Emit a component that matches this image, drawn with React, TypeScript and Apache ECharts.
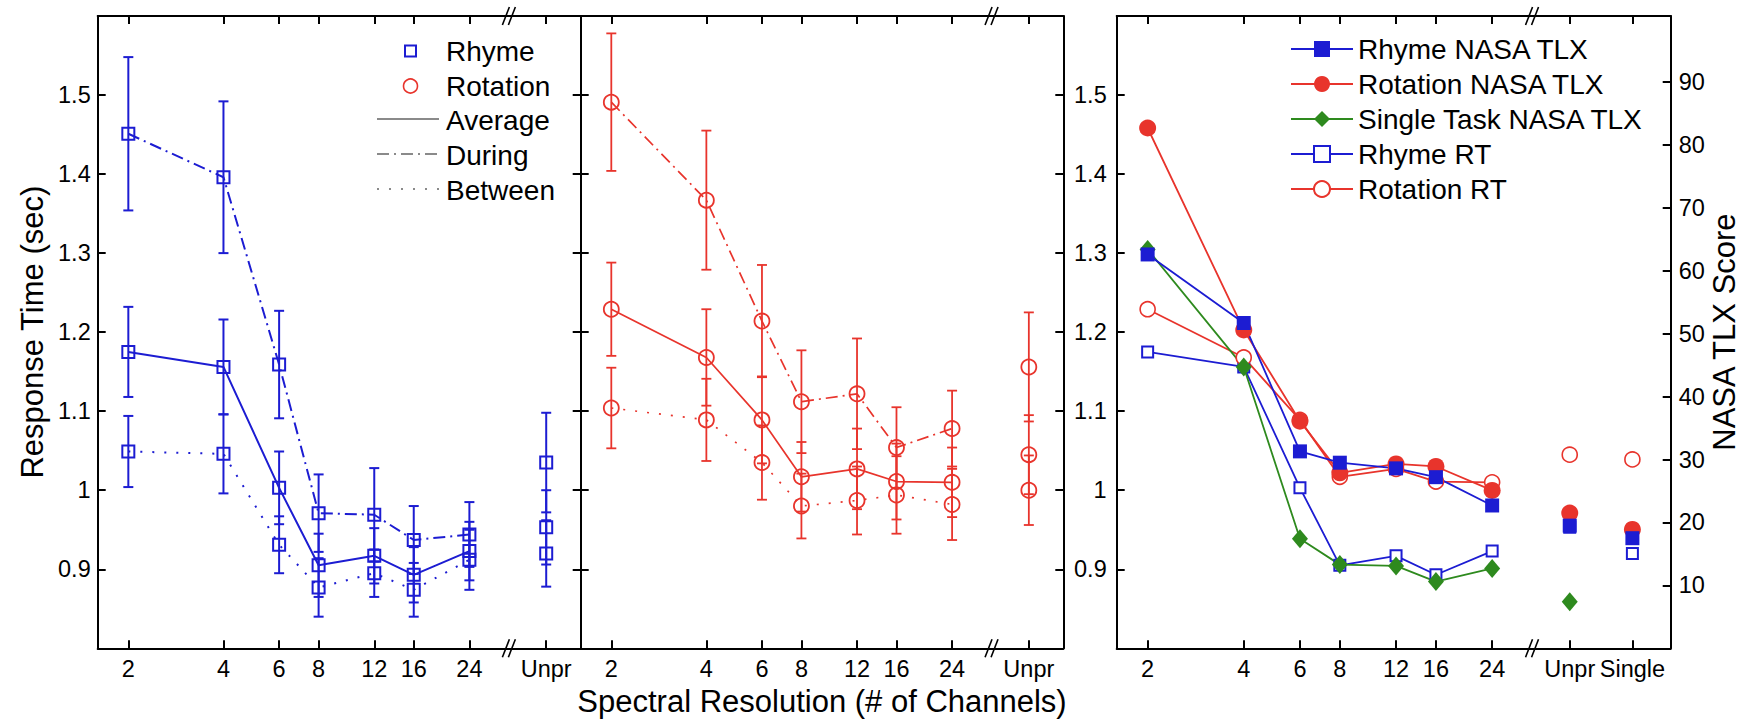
import React, { useEffect, useRef } from 'react';
import * as echarts from 'echarts';

const FONT = '"Liberation Sans", Arial, Helvetica, sans-serif';
const BLUE = '#1c1cd2';
const RED = '#e8342c';
const GREEN = '#2e8a1e';
const GRAY = '#8a8a8a';

// x axis (log2 spaced channel counts), "Unpr" and "Single" placed after a break
const channels = [2, 4, 6, 8, 12, 16, 24];
const UNPR_X = 42;
const SINGLE_X = 66;
const BREAK_X = 32;
const X_MIN = 1.6;
const X_MAX_RT = 54;
const X_MAX_TLX = 87;
const xTickValues = [2, 4, 6, 8, 12, 16, 24, UNPR_X];
const xTickLabels = ['2', '4', '6', '8', '12', '16', '24', 'Unpr'];
const xTickValuesTlx = [2, 4, 6, 8, 12, 16, 24, UNPR_X, SINGLE_X];
const xTickLabelsTlx = ['2', '4', '6', '8', '12', '16', '24', 'Unpr', 'Single'];

// y axes
const RT_MIN = 0.8;
const RT_MAX = 1.6;
const rtTicks = [0.9, 1, 1.1, 1.2, 1.3, 1.4, 1.5];
const TLX_MIN = 0;
const TLX_MAX = 100.5;
const tlxTicks = [10, 20, 30, 40, 50, 60, 70, 80, 90];

// Rhyme response time (sec): value and error half-width per channel; then Unpr
const rhymeDuring = [1.451, 1.396, 1.159, 0.971, 0.969, 0.937, 0.944];
const rhymeDuringErr = [0.097, 0.096, 0.068, 0.049, 0.059, 0.043, 0.041];
const rhymeDuringUnpr = 1.035;
const rhymeDuringUnprErr = 0.063;
const rhymeAverage = [1.175, 1.156, 1.003, 0.905, 0.917, 0.893, 0.923];
const rhymeAverageErr = [0.057, 0.06, 0.046, 0.04, 0.035, 0.035, 0.037];
const rhymeAverageUnpr = 0.953;
const rhymeAverageUnprErr = 0.047;
const rhymeBetween = [1.049, 1.046, 0.931, 0.877, 0.895, 0.874, 0.912];
const rhymeBetweenErr = [0.045, 0.05, 0.036, 0.037, 0.03, 0.034, 0.038];
const rhymeBetweenUnpr = 0.92;
const rhymeBetweenUnprErr = 0.042;

// Rotation response time (sec)
const rotationDuring = [1.491, 1.367, 1.214, 1.112, 1.122, 1.054, 1.078];
const rotationDuringErr = [0.087, 0.088, 0.071, 0.065, 0.07, 0.051, 0.048];
const rotationDuringUnpr = 1.156;
const rotationDuringUnprErr = 0.069;
const rotationAverage = [1.229, 1.168, 1.089, 1.017, 1.027, 1.011, 1.01];
const rotationAverageErr = [0.059, 0.061, 0.055, 0.044, 0.051, 0.048, 0.044];
const rotationAverageUnpr = 1.045;
const rotationAverageUnprErr = 0.05;
const rotationBetween = [1.104, 1.089, 1.035, 0.98, 0.987, 0.994, 0.982];
const rotationBetweenErr = [0.051, 0.052, 0.047, 0.041, 0.043, 0.049, 0.045];
const rotationBetweenUnpr = 1.0;
const rotationBetweenUnprErr = 0.044;

// Single-task response time (sec)
const rhymeRtSingle = 0.92;
const rotationRtSingle = 1.039;

// NASA TLX scores
const rhymeTlx = [62.6, 51.7, 31.3, 29.5, 28.6, 27.2, 22.7];
const rhymeTlxUnpr = 19.5;
const rhymeTlxSingle = 17.5;
const rotationTlx = [82.7, 50.6, 36.1, 27.9, 29.3, 28.9, 25.1];
const rotationTlxUnpr = 21.5;
const rotationTlxSingle = 18.9;
const singleTaskTlx = [63.4, 44.7, 17.4, 13.3, 13.1, 10.6, 12.7];
const singleTaskTlxUnpr = 7.4;

const DASH_DOT = [12, 5, 2, 5];
const DOTTED = [2, 10];

const makeXFormatter = (values: number[], labels: string[]) => (v: number) => {
  let best = 0;
  values.forEach((t, i) => {
    if (Math.abs(Math.log(t) - Math.log(v)) < Math.abs(Math.log(values[best]) - Math.log(v))) best = i;
  });
  return labels[best];
};

const axisLine = { show: true, onZero: false, lineStyle: { color: '#000', width: 2 } };
const tickStyle = { color: '#000', width: 2 };
const labelBase = { color: '#000', fontSize: 23.5, fontFamily: FONT };

function xAxisCfg(gridIndex: number, position: string, max: number, values: number[], labels: string[], showLabels: boolean, name?: string) {
  return {
    type: 'log',
    logBase: 2,
    gridIndex,
    position,
    min: X_MIN,
    max,
    name: name || '',
    nameLocation: 'middle',
    nameGap: 34,
    nameTextStyle: { color: '#000', fontSize: 31, fontFamily: FONT },
    axisLine,
    axisTick: { show: true, inside: true, length: 8, customValues: values, lineStyle: tickStyle },
    axisLabel: { ...labelBase, show: showLabels, customValues: values, margin: 9, formatter: makeXFormatter(values, labels) },
    splitLine: { show: false },
    minorTick: { show: false },
    minorSplitLine: { show: false },
  };
}

function yAxisCfg(gridIndex: number, position: string, min: number, max: number, ticks: number[], showLabels: boolean, margin: number, name?: string, nameGap?: number) {
  return {
    type: 'value',
    gridIndex,
    position,
    min,
    max,
    name: name || '',
    nameLocation: 'middle',
    nameRotate: 90,
    nameGap: nameGap || 0,
    nameTextStyle: { color: '#000', fontSize: 31, fontFamily: FONT },
    axisLine,
    axisTick: { show: true, inside: true, length: 8, customValues: ticks, lineStyle: tickStyle },
    axisLabel: {
      ...labelBase,
      show: showLabels,
      customValues: ticks,
      margin,
      formatter: (v: number) => String(Math.round(v * 10) / 10),
    },
    splitLine: { show: false },
  };
}

function errorBars(name: string, values: number[], errs: number[], unprValue: number, unprErr: number, color: string, xi: number, yi: number, lw: number) {
  const data = channels.map((c, i) => [c, values[i] - errs[i], values[i] + errs[i]]);
  data.push([UNPR_X, unprValue - unprErr, unprValue + unprErr]);
  return {
    type: 'custom',
    name,
    xAxisIndex: xi,
    yAxisIndex: yi,
    data,
    silent: true,
    clip: false,
    z: 2,
    encode: { x: 0, y: [1, 2] },
    renderItem: (_params: any, api: any) => {
      const x = api.value(0);
      const lo = api.coord([x, api.value(1)]);
      const hi = api.coord([x, api.value(2)]);
      const hw = 5;
      const style = { stroke: color, lineWidth: lw, fill: 'none' };
      return {
        type: 'group',
        children: [
          { type: 'line', shape: { x1: lo[0], y1: lo[1], x2: hi[0], y2: hi[1] }, style },
          { type: 'line', shape: { x1: lo[0] - hw, y1: lo[1], x2: lo[0] + hw, y2: lo[1] }, style },
          { type: 'line', shape: { x1: hi[0] - hw, y1: hi[1], x2: hi[0] + hw, y2: hi[1] }, style },
        ],
      };
    },
  };
}

function lineSeries(name: string, values: number[], color: string, dash: any, symbol: string, size: any, fill: string, bw: number, lw: number, xi: number, yi: number) {
  return {
    type: 'line',
    name,
    xAxisIndex: xi,
    yAxisIndex: yi,
    data: channels.map((c, i) => [c, values[i]]),
    symbol,
    symbolSize: size,
    showSymbol: true,
    showAllSymbol: true,
    lineStyle: { color, width: lw, type: dash },
    itemStyle: { color: fill, borderColor: color, borderWidth: bw, opacity: 1 },
    emphasis: { disabled: true },
    silent: true,
    z: 3,
  };
}

function pointSeries(name: string, pts: number[][], color: string, symbol: string, size: any, fill: string, bw: number, xi: number, yi: number) {
  return {
    type: 'scatter',
    name,
    xAxisIndex: xi,
    yAxisIndex: yi,
    data: pts,
    symbol,
    symbolSize: size,
    itemStyle: { color: fill, borderColor: color, borderWidth: bw, opacity: 1 },
    emphasis: { disabled: true },
    silent: true,
    z: 3,
  };
}

function breakMarks(name: string, xi: number, yi: number, yMin: number, yMax: number) {
  return {
    type: 'custom',
    name,
    xAxisIndex: xi,
    yAxisIndex: yi,
    data: [[BREAK_X, yMin], [BREAK_X, yMax]],
    silent: true,
    clip: false,
    z: 10,
    renderItem: (_params: any, api: any) => {
      const p = api.coord([api.value(0), api.value(1)]);
      const style = { stroke: '#000', lineWidth: 1.6 };
      return {
        type: 'group',
        children: [-3, 3].map((dx) => ({
          type: 'line',
          shape: { x1: p[0] + dx - 3.5, y1: p[1] + 9, x2: p[0] + dx + 3.5, y2: p[1] - 9 },
          style,
        })),
      };
    },
  };
}

const legendText = (text: string, x: number, y: number) => ({
  type: 'text',
  x,
  y,
  style: { text, fill: '#000', fontSize: 28, fontFamily: FONT, align: 'left', verticalAlign: 'middle' },
});

function buildOption() {
  const gridTop = 16;
  const gridHeight = 632.3;
  return {
    animation: false,
    backgroundColor: '#fff',
    textStyle: { fontFamily: FONT },
    grid: [
      { left: 97.7, top: gridTop, width: 483, height: gridHeight, outerBoundsMode: 'none', containLabel: false },
      { left: 580.7, top: gridTop, width: 482.6, height: gridHeight, outerBoundsMode: 'none', containLabel: false },
      { left: 1116.7, top: gridTop, width: 554, height: gridHeight, outerBoundsMode: 'none', containLabel: false },
    ],
    xAxis: [
      xAxisCfg(0, 'bottom', X_MAX_RT, xTickValues, xTickLabels, true),
      xAxisCfg(0, 'top', X_MAX_RT, xTickValues, xTickLabels, false),
      xAxisCfg(1, 'bottom', X_MAX_RT, xTickValues, xTickLabels, true, 'Spectral Resolution (# of Channels)'),
      xAxisCfg(1, 'top', X_MAX_RT, xTickValues, xTickLabels, false),
      xAxisCfg(2, 'bottom', X_MAX_TLX, xTickValuesTlx, xTickLabelsTlx, true),
      xAxisCfg(2, 'top', X_MAX_TLX, xTickValuesTlx, xTickLabelsTlx, false),
    ],
    yAxis: [
      yAxisCfg(0, 'left', RT_MIN, RT_MAX, rtTicks, true, 7, 'Response Time (sec)', 50),
      yAxisCfg(0, 'right', RT_MIN, RT_MAX, rtTicks, false, 8),
      yAxisCfg(1, 'left', RT_MIN, RT_MAX, rtTicks, false, 8),
      yAxisCfg(1, 'right', RT_MIN, RT_MAX, rtTicks, false, 8),
      yAxisCfg(2, 'left', RT_MIN, RT_MAX, rtTicks, true, 10),
      yAxisCfg(2, 'right', TLX_MIN, TLX_MAX, tlxTicks, true, 8, 'NASA TLX Score', 37),
    ],
    legend: {
      data: ['Rhyme NASA TLX', 'Rotation NASA TLX', 'Single Task NASA TLX', 'Rhyme RT', 'Rotation RT'],
      orient: 'vertical',
      left: 1285,
      top: 30,
      padding: 5,
      itemWidth: 62,
      itemHeight: 20,
      itemGap: 7,
      selectedMode: false,
      textStyle: { color: '#000', fontSize: 28, fontFamily: FONT },
    },
    graphic: [
      { type: 'rect', shape: { x: 405, y: 45.5, width: 11, height: 11 }, style: { fill: 'none', stroke: BLUE, lineWidth: 2 } },
      legendText('Rhyme', 446, 51),
      { type: 'circle', shape: { cx: 410.5, cy: 86, r: 7 }, style: { fill: 'none', stroke: RED, lineWidth: 1.6 } },
      legendText('Rotation', 446, 86),
      { type: 'line', shape: { x1: 377, y1: 119, x2: 439, y2: 119 }, style: { stroke: GRAY, lineWidth: 1.8 } },
      legendText('Average', 446, 120),
      { type: 'line', shape: { x1: 377, y1: 154, x2: 439, y2: 154 }, style: { stroke: GRAY, lineWidth: 1.8, lineDash: DASH_DOT } },
      legendText('During', 446, 155),
      { type: 'line', shape: { x1: 377, y1: 189, x2: 439, y2: 189 }, style: { stroke: GRAY, lineWidth: 1.8, lineDash: DOTTED } },
      legendText('Between', 446, 190),
    ],
    series: [
      // Panel 1: Rhyme
      errorBars('Rhyme During error', rhymeDuring, rhymeDuringErr, rhymeDuringUnpr, rhymeDuringUnprErr, BLUE, 0, 0, 2),
      errorBars('Rhyme Average error', rhymeAverage, rhymeAverageErr, rhymeAverageUnpr, rhymeAverageUnprErr, BLUE, 0, 0, 2),
      errorBars('Rhyme Between error', rhymeBetween, rhymeBetweenErr, rhymeBetweenUnpr, rhymeBetweenUnprErr, BLUE, 0, 0, 2),
      lineSeries('Rhyme During', rhymeDuring, BLUE, DASH_DOT, 'rect', 12, 'transparent', 2, 2, 0, 0),
      lineSeries('Rhyme Average', rhymeAverage, BLUE, 'solid', 'rect', 12, 'transparent', 2, 2, 0, 0),
      lineSeries('Rhyme Between', rhymeBetween, BLUE, DOTTED, 'rect', 12, 'transparent', 2, 2, 0, 0),
      pointSeries('Rhyme Unpr', [[UNPR_X, rhymeDuringUnpr], [UNPR_X, rhymeAverageUnpr], [UNPR_X, rhymeBetweenUnpr]], BLUE, 'rect', 12, 'transparent', 2, 0, 0),
      breakMarks('break 1', 0, 0, RT_MIN, RT_MAX),

      // Panel 2: Rotation
      errorBars('Rotation During error', rotationDuring, rotationDuringErr, rotationDuringUnpr, rotationDuringUnprErr, RED, 2, 2, 1.8),
      errorBars('Rotation Average error', rotationAverage, rotationAverageErr, rotationAverageUnpr, rotationAverageUnprErr, RED, 2, 2, 1.8),
      errorBars('Rotation Between error', rotationBetween, rotationBetweenErr, rotationBetweenUnpr, rotationBetweenUnprErr, RED, 2, 2, 1.8),
      lineSeries('Rotation During', rotationDuring, RED, DASH_DOT, 'circle', 15, 'transparent', 1.8, 1.7, 2, 2),
      lineSeries('Rotation Average', rotationAverage, RED, 'solid', 'circle', 15, 'transparent', 1.8, 1.7, 2, 2),
      lineSeries('Rotation Between', rotationBetween, RED, DOTTED, 'circle', 15, 'transparent', 1.8, 1.7, 2, 2),
      pointSeries('Rotation Unpr', [[UNPR_X, rotationDuringUnpr], [UNPR_X, rotationAverageUnpr], [UNPR_X, rotationBetweenUnpr]], RED, 'circle', 15, 'transparent', 1.8, 2, 2),
      breakMarks('break 2', 2, 2, RT_MIN, RT_MAX),

      // Panel 3: RT vs NASA TLX
      lineSeries('Rhyme RT', rhymeAverage, BLUE, 'solid', 'rect', 11, '#fff', 2, 1.8, 4, 4),
      lineSeries('Rotation RT', rotationAverage, RED, 'solid', 'circle', 15, '#fff', 1.6, 1.8, 4, 4),
      lineSeries('Single Task NASA TLX', singleTaskTlx, GREEN, 'solid', 'diamond', [16, 19], GREEN, 0, 1.8, 4, 5),
      lineSeries('Rotation NASA TLX', rotationTlx, RED, 'solid', 'circle', 17, RED, 0, 1.8, 4, 5),
      lineSeries('Rhyme NASA TLX', rhymeTlx, BLUE, 'solid', 'rect', 14, BLUE, 0, 1.8, 4, 5),
      pointSeries('Rhyme RT (Unpr, Single)', [[UNPR_X, rhymeAverageUnpr], [SINGLE_X, rhymeRtSingle]], BLUE, 'rect', 11, '#fff', 2, 4, 4),
      pointSeries('Rotation RT (Unpr, Single)', [[UNPR_X, rotationAverageUnpr], [SINGLE_X, rotationRtSingle]], RED, 'circle', 15, '#fff', 1.6, 4, 4),
      pointSeries('Single Task NASA TLX (Unpr)', [[UNPR_X, singleTaskTlxUnpr]], GREEN, 'diamond', [16, 19], GREEN, 0, 4, 5),
      pointSeries('Rotation NASA TLX (Unpr, Single)', [[UNPR_X, rotationTlxUnpr], [SINGLE_X, rotationTlxSingle]], RED, 'circle', 17, RED, 0, 4, 5),
      pointSeries('Rhyme NASA TLX (Unpr, Single)', [[UNPR_X, rhymeTlxUnpr], [SINGLE_X, rhymeTlxSingle]], BLUE, 'rect', 14, BLUE, 0, 4, 5),
      breakMarks('break 3', 4, 4, RT_MIN, RT_MAX),
    ],
  };
}

export default function App() {
  const ref = useRef<HTMLDivElement>(null);
  useEffect(() => {
    if (!ref.current) return;
    const chart = echarts.init(ref.current, null, { renderer: 'svg' });
    chart.setOption(buildOption() as any);
    return () => chart.dispose();
  }, []);
  return (
    <div
      ref={ref}
      style={{ position: 'fixed', left: 0, top: 0, width: 1749, height: 719, background: '#fff' }}
    />
  );
}
